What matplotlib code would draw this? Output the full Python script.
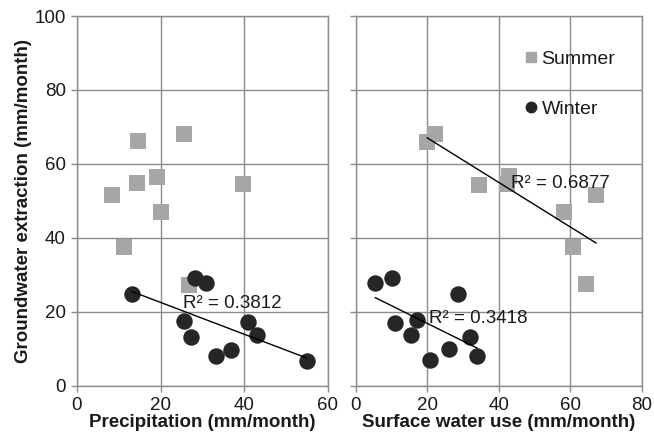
import numpy as np
import matplotlib
matplotlib.use("Agg")
import matplotlib.pyplot as plt
from matplotlib.lines import Line2D

plt.rcParams['font.family'] = ['Liberation Sans', 'DejaVu Sans']

# Summer data
summer_precip = [14.5, 25.5, 8.4, 14.3, 19.1, 20.0, 39.8, 11.3, 26.9]
summer_gw_p   = [66.1, 68.0, 51.7, 54.7, 56.5, 46.9, 54.6, 37.6, 27.2]
summer_sw     = [20.0, 22.2, 34.6, 43.0, 42.4, 67.2, 58.3, 60.8, 64.3]
summer_gw_s   = [65.9, 68.2, 54.4, 56.7, 54.6, 51.5, 46.9, 37.6, 27.4]

# Winter data
winter_precip = [13.2, 28.3, 30.9, 25.7, 27.4, 33.3, 36.8, 40.9, 43.1, 55.0]
winter_gw_p   = [24.7, 29.0, 27.7, 17.6, 13.1, 8.1, 9.6, 17.1, 13.7, 6.8]
winter_sw     = [5.5, 10.1, 28.7, 11.1, 17.1, 15.4, 32.0, 20.9, 26.1, 34.0]
winter_gw_s   = [27.8, 29.0, 24.9, 17.0, 17.8, 13.7, 13.3, 6.9, 9.8, 8.0]

r2_labels = {"winter_p": "R² = 0.3812", "summer_s": "R² = 0.6877", "winter_s": "R² = 0.3418"}

y_ticks = [0, 20, 40, 60, 80, 100]
x_ticks_left = [0, 20, 40, 60]
x_ticks_right = [0, 20, 40, 60, 80]

SUMMER_C = '#a6a6a6'
WINTER_C = '#262626'
GRID_C = '#8c8c8c'
TEXT_C = '#1a1a1a'
FS = 13.5

fig = plt.figure(figsize=(6.54, 4.41), dpi=100)
axL = fig.add_axes([77/654, 1-385.7/441, (327.7-77)/654, (385.7-16)/441])
axR = fig.add_axes([355.7/654, 1-385.7/441, (641.7-355.7)/654, (385.7-16)/441])

def trend(ax, x, y):
    x = np.asarray(x); y = np.asarray(y)
    m, b = np.polyfit(x, y, 1)
    xs = np.array([x.min(), x.max()])
    ax.plot(xs, m*xs + b, color='black', lw=1.0, zorder=4)

def style(ax, xticks, xlim, show_y):
    ax.set_xlim(*xlim)
    ax.set_ylim(0, 100)
    ax.set_xticks(xticks)
    ax.set_yticks(y_ticks)
    ax.grid(True, color=GRID_C, lw=1.0, zorder=0)
    ax.set_axisbelow(True)
    for s in ax.spines.values():
        s.set_color(GRID_C)
        s.set_linewidth(1.0)
    ax.tick_params(direction='out', length=4, color=GRID_C, width=1.0,
                   labelsize=FS, labelcolor=TEXT_C, pad=4)
    if not show_y:
        ax.set_yticklabels([])

# Left panel
axL.scatter(summer_precip, summer_gw_p, marker='s', s=120, color=SUMMER_C, zorder=3, linewidths=0)
axL.scatter(winter_precip, winter_gw_p, marker='o', s=140, color=WINTER_C, zorder=3, linewidths=0)
trend(axL, winter_precip, winter_gw_p)
style(axL, x_ticks_left, (0, 60), True)
axL.text(25.3, 22.3, r2_labels["winter_p"], fontsize=FS, color=TEXT_C, va='center', ha='left', zorder=5)
axL.set_xlabel('Precipitation (mm/month)', fontsize=FS, fontweight='bold', color=TEXT_C, labelpad=0)
axL.set_ylabel('Groundwater extraction (mm/month)', fontsize=FS, fontweight='bold', color=TEXT_C, labelpad=2)

# Right panel
axR.scatter(summer_sw, summer_gw_s, marker='s', s=120, color=SUMMER_C, zorder=3, linewidths=0)
axR.scatter(winter_sw, winter_gw_s, marker='o', s=140, color=WINTER_C, zorder=3, linewidths=0)
trend(axR, summer_sw, summer_gw_s)
trend(axR, winter_sw, winter_gw_s)
style(axR, x_ticks_right, (0, 80), False)
axR.text(43.4, 54.6, r2_labels["summer_s"], fontsize=FS, color=TEXT_C, va='center', ha='left', zorder=5)
axR.text(20.5, 18.3, r2_labels["winter_s"], fontsize=FS, color=TEXT_C, va='center', ha='left', zorder=5)
axR.set_xlabel('Surface water use (mm/month)', fontsize=FS, fontweight='bold', color=TEXT_C, labelpad=0)

handles = [Line2D([], [], marker='s', ls='none', color=SUMMER_C, markersize=7.2),
           Line2D([], [], marker='o', ls='none', color=WINTER_C, markersize=7.5)]
leg = axR.legend(handles, ['Summer', 'Winter'], loc='upper left', bbox_to_anchor=(0.595, 0.907),
                 frameon=False, fontsize=14, labelspacing=1.65, handlelength=0.55,
                 handletextpad=0.25, borderpad=0, borderaxespad=0)
for t in leg.get_texts():
    t.set_color(TEXT_C)

fig.savefig('out.png', dpi=100)
